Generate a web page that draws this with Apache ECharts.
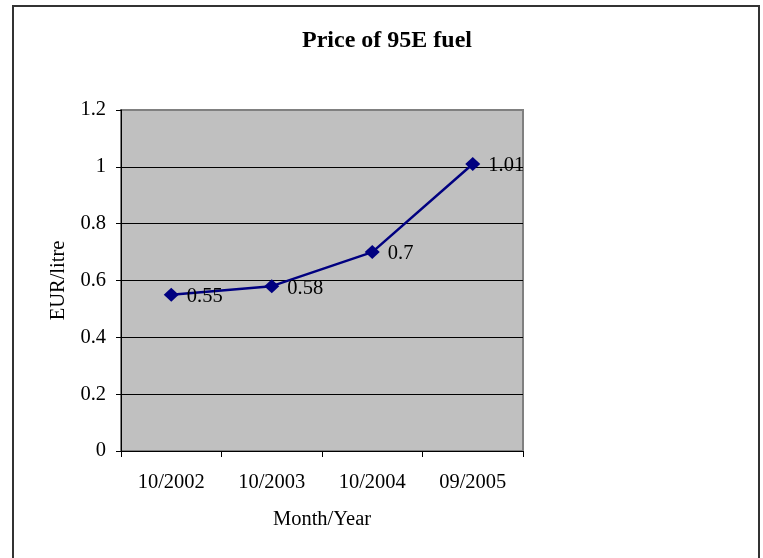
<!DOCTYPE html>
<html>
<head>
<meta charset="utf-8">
<script src="https://cdn.jsdelivr.net/npm/echarts@6/dist/echarts.min.js"></script>
<style>
html, body { margin: 0; padding: 0; background: #fff; }
#chart { width: 763px; height: 558px; }
</style>
</head>
<body>
<div id="chart"></div>
<script>
// data
var months = ['10/2002', '10/2003', '10/2004', '09/2005'];
var prices = [0.55, 0.58, 0.70, 1.01];
var yTicks = [0, 0.2, 0.4, 0.6, 0.8, 1, 1.2];

var font = 'Liberation Serif, Times New Roman, serif';

var myChart = echarts.init(document.getElementById('chart'));

var option = {
    backgroundColor: '#fff',
    animation: false,
    title: {//标题
        text: 'Price of 95E fuel',
        left: 382,
        top: 24,
        textAlign: 'center',
        textStyle: { fontFamily: font, fontSize: 24, fontWeight: 'bold', color: '#000' }
    },
    graphic: [
        {   // outer frame
            type: 'rect',
            shape: { x: 13, y: 6, width: 746, height: 560 },
            style: { fill: null, stroke: '#333', lineWidth: 2 }
        }
    ],
    grid: {
        left: 121, top: 110, right: 240, bottom: 107,
        show: true,
        backgroundColor: '#c0c0c0',
        borderColor: '#808080',
        borderWidth: 2
    },
    xAxis: {
        type: 'category',
        data: months,
        boundaryGap: true,
        name: 'Month/Year',
        nameLocation: 'middle',
        nameGap: 58,
        nameTextStyle: { fontFamily: font, fontSize: 20.5, color: '#000' },
        axisLine: { lineStyle: { color: '#000', width: 1 } },
        axisTick: { show: true, length: 6, alignWithLabel: false, lineStyle: { color: '#000' } },
        axisLabel: { fontFamily: font, fontSize: 20.5, color: '#000', margin: 21 },
        splitLine: { show: false }
    },
    yAxis: {
        type: 'value',
        min: yTicks[0],
        max: yTicks[yTicks.length - 1],
        interval: 0.2,
        name: 'EUR/litre',
        nameLocation: 'middle',
        nameGap: 52,
        nameTextStyle: { fontFamily: font, fontSize: 20.5, color: '#000' },
        axisLine: { show: true, lineStyle: { color: '#000', width: 1 } },
        axisTick: { show: true, length: 5, lineStyle: { color: '#000' } },
        axisLabel: { fontFamily: font, fontSize: 20.5, color: '#000', margin: 15 },
        splitLine: { show: true, showMaxLine: false, lineStyle: { color: '#000', width: 1 } }
    },
    series: [
        {
            name: 'Price',
            type: 'line',
            data: prices,
            symbol: 'diamond',
            symbolSize: [15, 14],
            itemStyle: { color: '#000080' },
            lineStyle: { color: '#000080', width: 2.5 },
            label: {
                show: true,
                position: 'right',
                distance: 8,
                offset: [0, 2],
                fontFamily: font,
                fontSize: 20.5,
                color: '#000'
            }
        }
    ]
};

myChart.setOption(option);
</script>
</body>
</html>
